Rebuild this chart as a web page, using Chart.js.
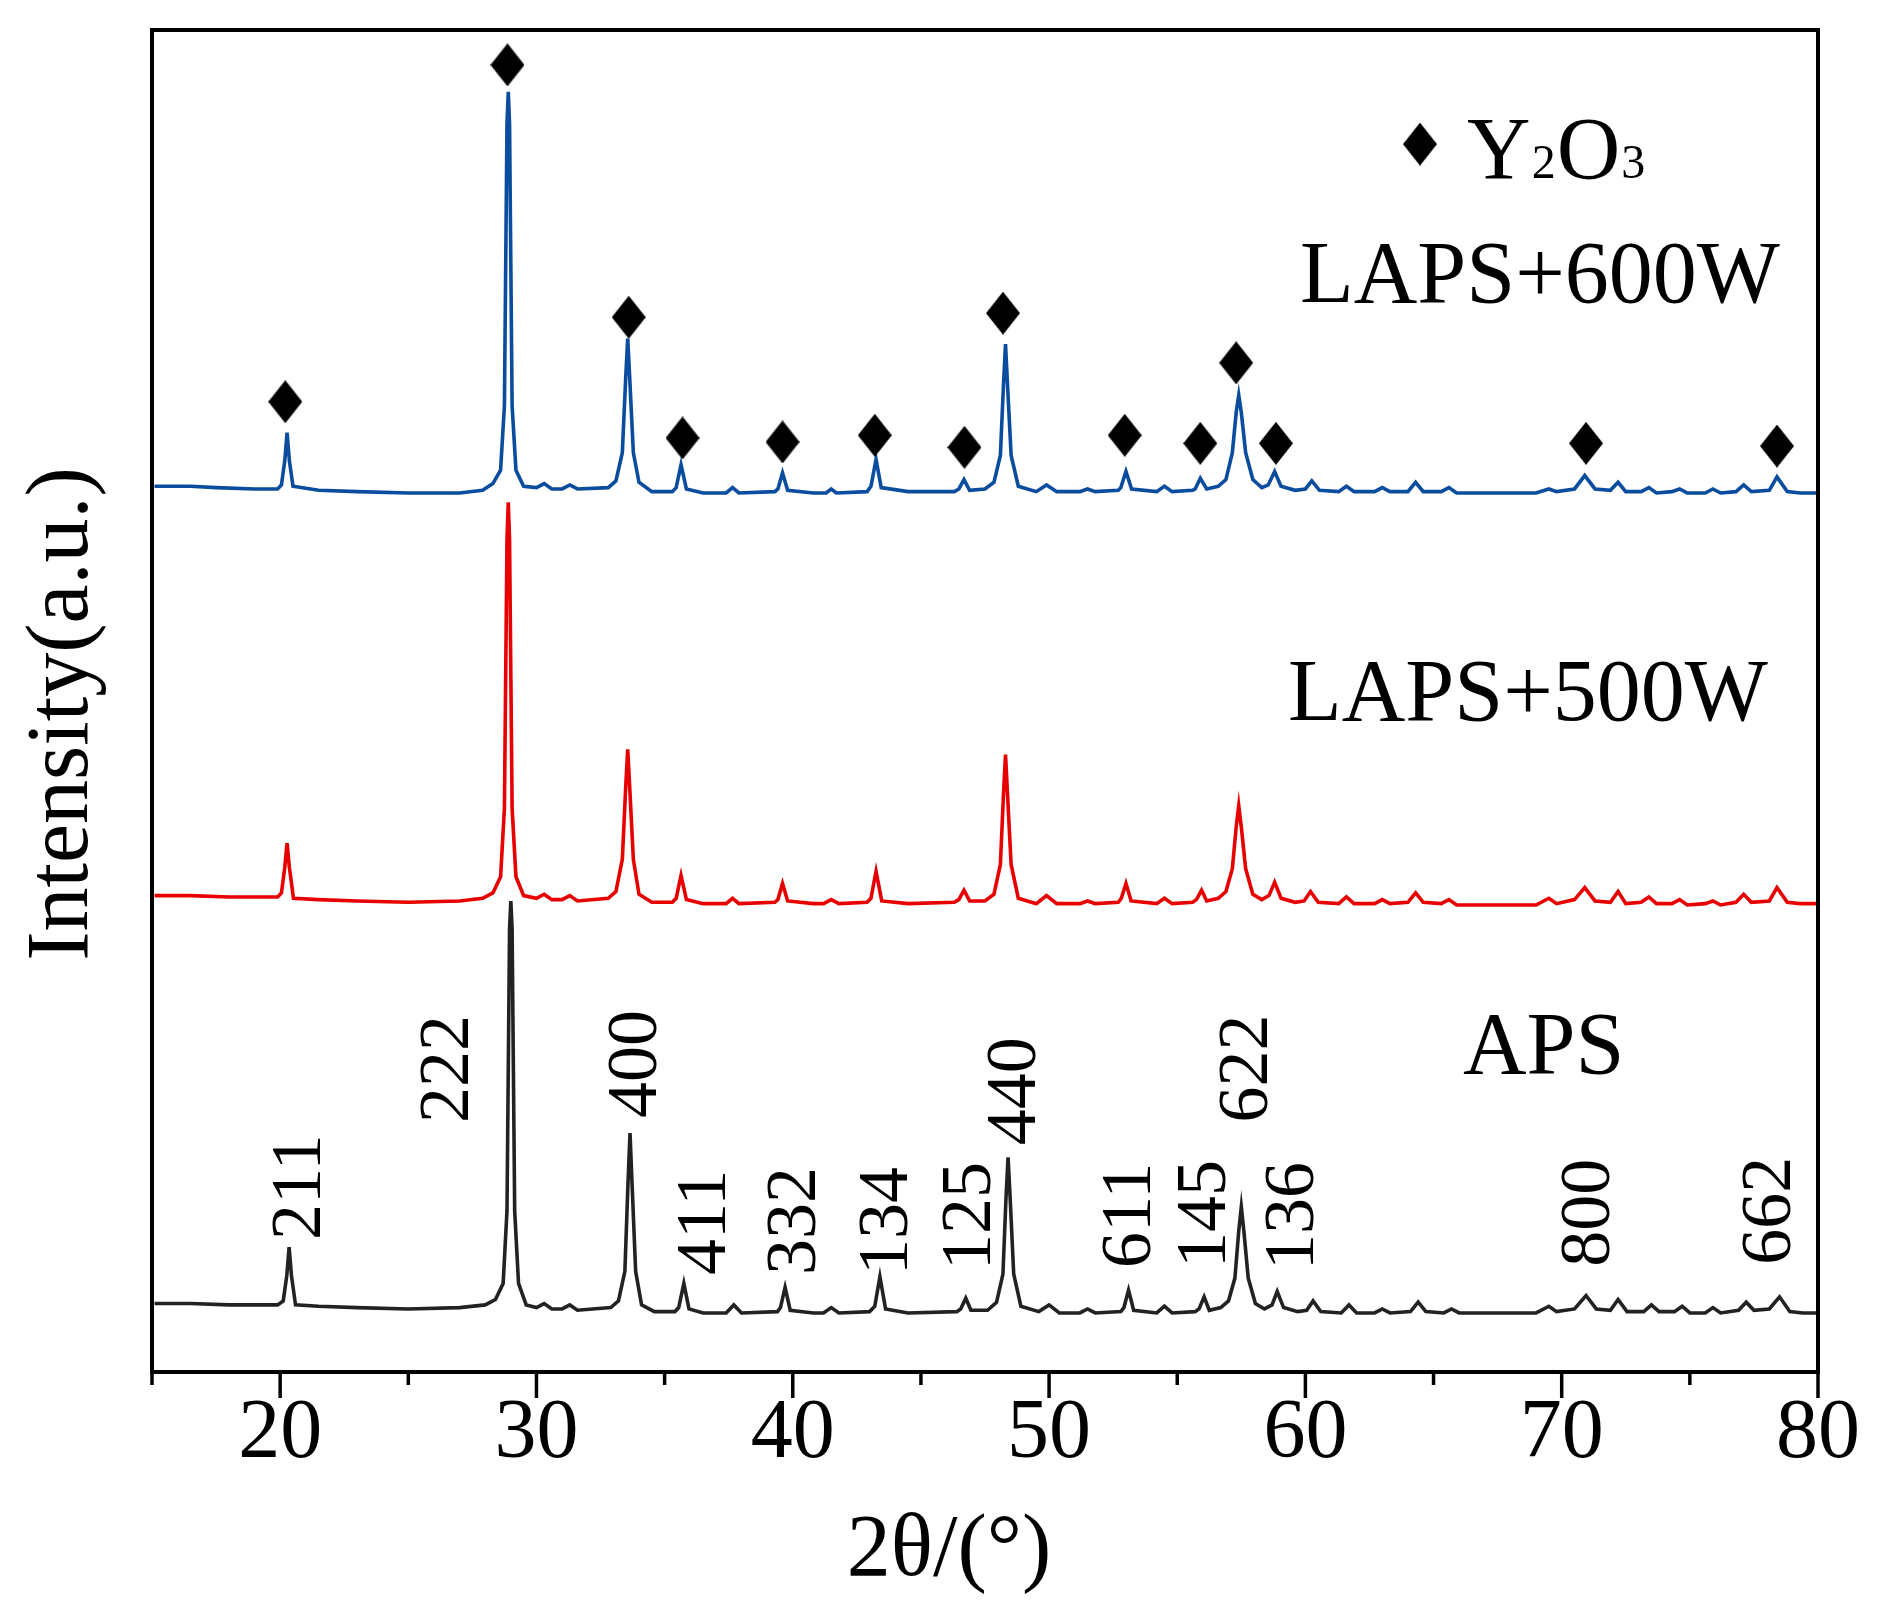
<!DOCTYPE html>
<html>
<head>
<meta charset="utf-8">
<script src="https://cdn.jsdelivr.net/npm/chart.js@4.4.0/dist/chart.umd.min.js"></script>
<style>
html, body { margin: 0; padding: 0; background: #fff; }
</style>
</head>
<body>
<canvas id="chart" width="1881" height="1610"></canvas>
<script>
// 2theta (deg) vs intensity (a.u., curves offset by hand as in the figure)
const apsData = [
  [15.1,5.1],[16.5,5.1],[18,5.0],[19.9,5.0],
  [20.12,5.3],[20.26,7.2],[20.35,9.3],[20.44,7.2],[20.6,5.0],
  [21.5,4.9],[23,4.8],[25,4.7],[27,4.8],[28.0,5.0],
  [28.4,5.4],[28.7,6.6],[28.85,12],[28.95,33],[29.0,35.1],[29.05,33],[29.15,12],[29.3,6.6],[29.6,5.0],
  [30.0,4.8],[30.3,5.1],[30.6,4.7],[31.0,4.7],[31.3,5.0],[31.6,4.6],[32.9,4.8],
  [33.2,5.3],[33.45,7.5],[33.57,14],[33.65,17.8],[33.73,14],[33.87,7.5],[34.1,5.0],
  [34.6,4.5],[35.4,4.5],
  [35.55,4.8],[35.75,6.6],[35.95,4.7],
  [36.5,4.4],[37.4,4.4],[37.7,5.0],[38.0,4.4],[39.4,4.5],
  [39.52,4.8],[39.7,6.3],[39.9,4.6],
  [40.8,4.4],[41.2,4.4],[41.5,4.8],[41.8,4.4],[43.0,4.5],
  [43.2,4.9],[43.4,7.1],[43.62,4.7],
  [44.5,4.4],[46.4,4.5],
  [46.55,4.7],[46.75,5.5],[46.95,4.6],
  [47.6,4.6],
  [47.95,5.2],[48.2,7.3],[48.32,13],[48.4,16.0],[48.48,13],[48.62,7.3],[48.9,4.9],
  [49.6,4.5],[50.0,5.0],[50.4,4.4],[51.2,4.4],[51.5,4.7],[51.8,4.4],[52.8,4.5],
  [52.92,4.8],[53.1,6.1],[53.3,4.6],
  [54.2,4.4],[54.5,4.9],[54.8,4.4],[55.7,4.5],
  [55.85,4.7],[56.05,5.6],[56.25,4.6],
  [56.7,4.8],
  [57.0,5.3],[57.25,7.0],[57.4,10.5],[57.5,12.3],[57.6,10.5],[57.77,7.0],[58.05,5.1],
  [58.4,4.7],
  [58.7,5.0],[58.9,6.0],[59.15,4.8],
  [59.7,4.5],[60.05,4.6],[60.3,5.3],[60.6,4.5],
  [61.4,4.4],[61.7,5.0],[62.0,4.4],[62.7,4.4],[63.0,4.7],[63.3,4.4],[64.1,4.5],
  [64.4,5.2],[64.7,4.5],[65.4,4.4],[65.7,4.7],[66.0,4.4],[67,4.4],[69,4.4],
  [69.5,4.9],[69.8,4.5],[70.5,4.7],
  [70.95,5.7],[71.35,4.7],[71.9,4.6],
  [72.2,5.4],[72.55,4.5],[73.2,4.5],[73.5,5.0],[73.8,4.5],[74.4,4.5],[74.7,4.9],[75.0,4.4],
  [75.6,4.4],[75.9,4.8],[76.2,4.4],[76.9,4.6],
  [77.2,5.2],[77.5,4.6],[78.1,4.7],
  [78.5,5.6],[78.9,4.5],[79.4,4.4],[80,4.4]
];

const laps500Data = [
  [15.1,35.5],[16.5,35.5],[18,35.4],[19.9,35.4],
  [20.05,35.7],[20.18,37.6],[20.27,39.4],[20.36,37.6],[20.52,35.3],
  [21.5,35.2],[23,35.1],[25,35.0],[27,35.1],[27.9,35.3],
  [28.3,35.7],[28.6,36.9],[28.75,42],[28.85,62],[28.9,64.8],[28.95,62],[29.05,42],[29.2,36.9],[29.5,35.5],
  [30.0,35.3],[30.3,35.6],[30.6,35.2],[31.0,35.2],[31.3,35.5],[31.6,35.1],[32.8,35.3],
  [33.1,35.8],[33.35,38.2],[33.48,43.5],[33.56,46.4],[33.64,43.5],[33.78,38.2],[34.0,35.6],
  [34.5,35.0],[35.3,35.0],
  [35.45,35.3],[35.64,37.0],[35.85,35.2],
  [36.5,34.9],[37.4,34.9],[37.65,35.3],[37.9,34.9],[39.3,35.0],
  [39.42,35.2],[39.6,36.4],[39.8,35.1],
  [40.8,34.9],[41.2,34.9],[41.5,35.2],[41.8,34.9],[42.9,35.0],
  [43.05,35.3],[43.25,37.3],[43.47,35.1],
  [44.5,34.9],[46.3,35.0],
  [46.48,35.2],[46.68,35.9],[46.9,35.1],
  [47.5,35.1],
  [47.85,35.6],[48.1,37.8],[48.22,43],[48.3,46.0],[48.38,43],[48.52,37.8],[48.8,35.3],
  [49.5,34.9],[49.9,35.5],[50.3,34.9],[51.2,34.9],[51.5,35.1],[51.8,34.9],[52.7,35.0],
  [52.82,35.3],[53.0,36.4],[53.2,35.1],
  [54.2,34.9],[54.5,35.3],[54.8,34.9],[55.6,35.0],
  [55.75,35.2],[55.95,35.9],[56.15,35.1],
  [56.6,35.3],
  [56.9,35.8],[57.15,37.5],[57.3,40.6],[57.4,42.2],[57.5,40.6],[57.67,37.5],[57.95,35.6],
  [58.3,35.2],
  [58.58,35.5],[58.8,36.5],[59.05,35.3],
  [59.6,35.0],[59.95,35.1],[60.2,35.8],[60.5,35.0],
  [61.3,34.9],[61.6,35.4],[61.9,34.9],[62.7,34.9],[63.0,35.2],[63.3,34.9],[64.0,35.0],
  [64.3,35.7],[64.6,35.0],[65.3,34.9],[65.6,35.2],[65.9,34.8],[67,34.8],[69,34.8],
  [69.5,35.3],[69.8,34.9],[70.5,35.2],
  [70.9,36.1],[71.3,35.1],[71.9,35.0],
  [72.2,35.8],[72.5,34.9],[73.1,35.0],[73.4,35.4],[73.7,34.9],[74.3,34.9],[74.6,35.2],[74.9,34.8],
  [75.6,34.9],[75.9,35.1],[76.2,34.8],[76.8,35.0],
  [77.1,35.6],[77.4,35.0],[78.1,35.1],
  [78.4,36.1],[78.8,35.0],[79.3,34.9],[80,34.9]
];

const laps600Data = [
  [15.1,66.0],[16.5,66.0],[17.5,65.9],[19.0,65.8],[19.9,65.8],
  [20.05,66.1],[20.18,67.9],[20.27,70.0],[20.36,67.9],[20.5,66.0],
  [21.5,65.7],[23,65.6],[25,65.5],[27,65.5],[27.9,65.7],
  [28.3,66.2],[28.6,67.2],[28.75,72],[28.85,93],[28.9,95.4],[28.95,93],[29.05,72],[29.2,67.2],[29.5,66.0],
  [30.0,65.9],[30.3,66.2],[30.6,65.8],[31.0,65.8],[31.3,66.1],[31.6,65.8],[32.8,65.9],
  [33.1,66.4],[33.35,68.5],[33.48,74],[33.56,77.0],[33.64,74],[33.78,68.5],[34.0,66.3],
  [34.5,65.6],[35.3,65.6],
  [35.45,65.9],[35.64,67.6],[35.85,65.8],
  [36.5,65.5],[37.4,65.5],[37.65,65.9],[37.9,65.5],[39.3,65.6],
  [39.42,65.8],[39.6,67.0],[39.8,65.7],
  [40.8,65.5],[41.3,65.5],[41.5,65.8],[41.7,65.5],[42.9,65.6],
  [43.05,66.0],[43.25,68.0],[43.45,65.9],
  [44.5,65.6],[46.3,65.6],
  [46.48,65.8],[46.68,66.5],[46.9,65.7],
  [47.5,65.8],
  [47.85,66.3],[48.1,68.3],[48.22,73.5],[48.3,76.6],[48.38,73.5],[48.52,68.3],[48.8,66.0],
  [49.5,65.6],[49.9,66.1],[50.3,65.6],[51.2,65.6],[51.5,65.8],[51.8,65.6],[52.7,65.7],
  [52.8,65.9],[53.0,67.1],[53.22,65.8],
  [54.2,65.6],[54.5,66.0],[54.8,65.6],[55.6,65.7],
  [55.7,65.8],[55.9,66.6],[56.15,65.8],
  [56.6,66.0],
  [56.9,66.5],[57.15,68.5],[57.3,71.5],[57.4,72.8],[57.5,71.5],[57.67,68.5],[57.95,66.5],
  [58.3,65.9],
  [58.55,66.1],[58.8,67.1],[59.05,66.0],
  [59.6,65.7],[60.0,65.8],[60.25,66.4],[60.55,65.7],
  [61.3,65.6],[61.6,66.0],[61.9,65.6],[62.7,65.6],[63.0,65.9],[63.3,65.6],[64.0,65.6],
  [64.3,66.3],[64.6,65.6],[65.3,65.6],[65.6,65.9],[65.9,65.5],[67,65.5],[69,65.5],
  [69.5,65.8],[69.8,65.6],[70.5,65.8],
  [70.9,66.8],[71.3,65.8],[71.9,65.7],
  [72.2,66.3],[72.5,65.6],[73.1,65.6],[73.4,65.9],[73.7,65.5],[74.3,65.6],[74.6,65.8],[74.9,65.5],
  [75.6,65.5],[75.9,65.8],[76.2,65.5],[76.8,65.6],
  [77.1,66.1],[77.4,65.6],[78.1,65.7],
  [78.4,66.7],[78.8,65.6],[79.3,65.5],[80,65.5]
];

// Y2O3 markers above the LAPS+600W peaks
const y2o3Marks = [
  [20.2,72.3],[28.87,97.4],[33.6,78.6],[35.7,69.6],[39.6,69.3],[43.2,69.8],[46.7,68.9],
  [48.2,78.9],[52.95,69.8],[55.9,69.2],[57.3,75.2],[58.85,69.2],[70.95,69.2],[78.4,69.0]
];

const xTickValues = [15,20,25,30,35,40,45,50,55,60,65,70,75,80];
const xTickLabels = ['20','30','40','50','60','70','80'];

const hklLabels = ['211','222','400','411','332','134','125','440','611','145','622','136','800','662'];
const hklX =      [20.62, 26.39, 33.73, 36.42, 39.93, 43.52, 46.76, 48.52, 53.0, 55.93, 57.57, 59.36, 70.91, 77.97];
const hklBottom = [9.84, 18.55, 18.93, 7.23, 7.23, 7.23, 7.6, 16.9, 7.75, 7.75, 18.6, 7.6, 7.85, 8.0];

const seriesNames = ['APS', 'LAPS+500W', 'LAPS+600W'];

const serif = '"Liberation Serif", "Times New Roman", serif';

const toXY = arr => arr.map(p => ({x: p[0], y: p[1]}));

const makeDiamond = (w, h) => {
    const c = document.createElement('canvas');
    c.width = w; c.height = h;
    const g = c.getContext('2d');
    g.fillStyle = '#000';
    g.beginPath();
    g.moveTo(w/2, 0); g.lineTo(w, h/2); g.lineTo(w/2, h); g.lineTo(0, h/2);
    g.closePath();
    g.fill();
    return c;
};
const diamond = makeDiamond(34, 43);

const decorations = {
    id: 'decorations',
    afterDraw(chart) {
        const ctx = chart.ctx, a = chart.chartArea;
        const xs = chart.scales.x, ys = chart.scales.y;
        ctx.save();
        ctx.fillStyle = '#000';
        ctx.strokeStyle = '#000';

        // frame
        ctx.lineWidth = 4;
        ctx.strokeRect(a.left, a.top, a.right - a.left, a.bottom - a.top);

        // x ticks, major every 10, minor every 5
        ctx.lineWidth = 3.5;
        xTickValues.forEach(v => {
            const x = xs.getPixelForValue(v);
            const len = v % 10 === 0 ? 26 : 13;
            ctx.beginPath();
            ctx.moveTo(x, a.bottom);
            ctx.lineTo(x, a.bottom + len);
            ctx.stroke();
        });

        ctx.font = '84px ' + serif;
        ctx.textAlign = 'center';
        ctx.textBaseline = 'alphabetic';
        xTickLabels.forEach(t => {
            ctx.fillText(t, xs.getPixelForValue(+t), a.bottom + 85);
        });

        // axis titles
        ctx.font = '88px ' + serif;
        ctx.fillText('2θ/(°)', (a.left + a.right) / 2 - 36, a.bottom + 203);
        ctx.save();
        ctx.translate(a.left - 65, (a.top + a.bottom) / 2 + 13);
        ctx.rotate(-Math.PI / 2);
        ctx.fillText('Intensity(a.u.)', 0, 0);
        ctx.restore();

        // series names
        ctx.textAlign = 'left';
        ctx.fillText(seriesNames[2], xs.getPixelForValue(59.79), ys.getPixelForValue(79.73));
        ctx.fillText(seriesNames[1], xs.getPixelForValue(59.32), ys.getPixelForValue(48.58));
        ctx.fillText(seriesNames[0], xs.getPixelForValue(66.15), ys.getPixelForValue(22.28));

        // legend text Y2O3
        let lx = xs.getPixelForValue(66.31);
        const ly = ys.getPixelForValue(88.97);
        const big = '88px ' + serif, small = '48px ' + serif;
        [['Y', big], ['2', small], ['O', big], ['3', small]].forEach(([s, f]) => {
            ctx.font = f;
            ctx.fillText(s, lx, ly);
            lx += ctx.measureText(s).width + 1;
        });

        // hkl indices, rotated
        ctx.font = '72px ' + serif;
        hklLabels.forEach((t, i) => {
            ctx.save();
            ctx.translate(xs.getPixelForValue(hklX[i]) + 24, ys.getPixelForValue(hklBottom[i]));
            ctx.rotate(-Math.PI / 2);
            ctx.fillText(t, 0, 0);
            ctx.restore();
        });

        ctx.restore();
    }
};

const lineSet = (data, color) => ({
    data: toXY(data),
    borderColor: color,
    borderWidth: 3.6,
    pointRadius: 0,
    tension: 0,
    fill: false
});

window.onload = function () {
    const ctx = document.getElementById('chart').getContext('2d');
    new Chart(ctx, {
        type: 'line',
        data: {
            datasets: [
                {
                    data: toXY(y2o3Marks),
                    showLine: false,
                    pointStyle: diamond,
                    pointRadius: 18,
                    order: 0
                },
                {
                    data: [{x: 64.47, y: 91.5}],
                    showLine: false,
                    pointStyle: diamond,
                    pointRadius: 18,
                    order: 0
                },
                Object.assign(lineSet(laps600Data, '#0a4c9e'), {order: 1}),
                Object.assign(lineSet(laps500Data, '#e80000'), {order: 2}),
                Object.assign(lineSet(apsData, '#222222'), {order: 3})
            ]
        },
        options: {
            responsive: false,
            animation: false,
            layout: { padding: { left: 152, right: 63, top: 30, bottom: 238 } },
            plugins: { legend: { display: false }, tooltip: { enabled: false } },
            scales: {
                x: { type: 'linear', min: 15, max: 80, display: false },
                y: { type: 'linear', min: 0, max: 100, display: false }
            }
        },
        plugins: [decorations]
    });
};
</script>
</body>
</html>
